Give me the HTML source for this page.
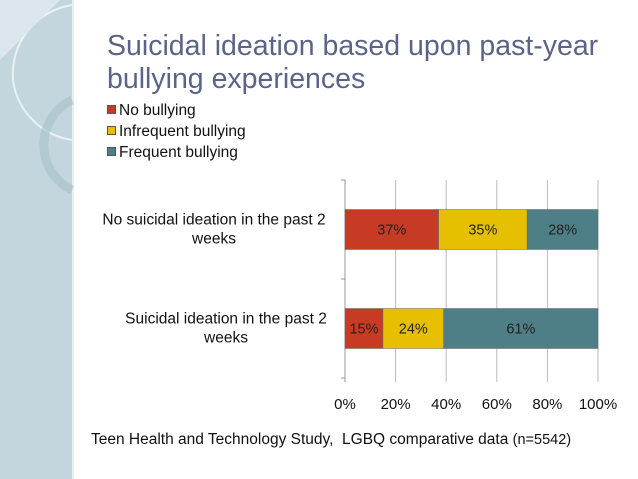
<!DOCTYPE html>
<html><head><meta charset="utf-8"><style>
body{margin:0;width:638px;height:479px;overflow:hidden;background:#fff;font-family:"Liberation Sans",sans-serif;position:relative}
.t{position:absolute;white-space:nowrap}
</style></head><body>
<svg width="638" height="479" style="position:absolute;left:0;top:0">
<rect x="0" y="0" width="72" height="479" fill="#c3d6de"/>
<rect x="72" y="0" width="2" height="479" fill="#e6eef2"/>
<path d="M72 5 A70 70 0 0 0 13 80 A70 70 0 0 0 72 140" fill="none" stroke="#e9f1f4" stroke-width="2"/>
<path d="M72 100 A50 50 0 0 0 72 190" fill="none" stroke="#a9bfc9" stroke-width="9" opacity="0.6"/>
<path d="M0 0 H60 Q30 30 0 60Z" fill="#dbe7ec"/>
</svg>
<div class="t" style="left:107px;top:30px;font-size:28.5px;line-height:33px;color:#5a6487">Suicidal ideation based upon past-year<br>bullying experiences</div>
<div id="legend" style="position:absolute;left:107px;top:100px;font-size:15.5px;line-height:21px;color:#111"></div>
<svg id="chart" width="638" height="479" style="position:absolute;left:0;top:0"></svg>
<div class="t" style="left:91px;top:431px;font-size:15.5px;color:#111">Teen Health and Technology Study,&nbsp; LGBQ comparative data <span style="font-size:14.5px">(n=5542)</span></div>
<script>
const categories=["No suicidal ideation in the past 2 weeks","Suicidal ideation in the past 2 weeks"];
const seriesNames=["No bullying","Infrequent bullying","Frequent bullying"];
const noBullying=[37,15];
const infrequent=[35,24];
const frequent=[28,61];
const ticks=[0,20,40,60,80,100];
const colors=["#c73b24","#e6bf00","#4e7e86"];
const series=[noBullying,infrequent,frequent];
const NS="http://www.w3.org/2000/svg";
const svg=document.getElementById('chart');
const x0=345,x1=598,yTop=180,yBot=378;
const xs=v=>x0+(x1-x0)*v/100;
const band=(yBot-yTop)/categories.length;
function el(t,a){const e=document.createElementNS(NS,t);for(const k in a)e.setAttribute(k,a[k]);svg.appendChild(e);return e;}
ticks.forEach(t=>{
 const g=el('line',{x1:xs(t),x2:xs(t),y1:yTop,y2:yBot+4,stroke:t===0?'#999':'#bbb','stroke-width':1});
 
 
 const l=el('text',{x:xs(t),y:yBot+31,'text-anchor':'middle','font-size':15,fill:'#111'});
 l.textContent=t+'%';
 
 
});
[0,1,2].forEach(i=>{el('line',{x1:x0-4,x2:x0,y1:yTop+i*band,y2:yTop+i*band,stroke:'#999'});});
categories.forEach((c,i)=>{
 const yc=yTop+band*(i+0.5);
 let acc=0;
 series.forEach((s,j)=>{
  const v=s[i];
  const r=el('rect',{x:xs(acc),y:yc-20,width:xs(acc+v)-xs(acc),height:40,fill:colors[j],stroke:'#666','stroke-width':0.5});
  
  
  const tx=el('text',{x:(xs(acc)+xs(acc+v))/2,y:yc+5,'text-anchor':'middle','font-size':14.5,fill:'#222'});
  tx.textContent=v+'%';
  
  
  acc+=v;
 });
 const words=c.split(' ');
 const line1=words.slice(0,-1).join(' '),line2=words[words.length-1];
 [line1,line2].forEach((ln,k)=>{
  const t=el('text',{x:i===0?214:226,y:yc-5+k*19,'text-anchor':'middle','font-size':15.5,fill:'#111'});
  t.textContent=ln;
  
  
 });
});
const lg=document.getElementById('legend');
seriesNames.forEach((n,j)=>{
 const d=document.createElement('div');
 
 
 d.innerHTML='<span style="display:inline-block;width:7px;height:7px;background:'+colors[j]+';border:1px solid #555;margin-right:3px;vertical-align:1px"></span>'+n;
 lg.appendChild(d);
});
</script>
</body></html>
